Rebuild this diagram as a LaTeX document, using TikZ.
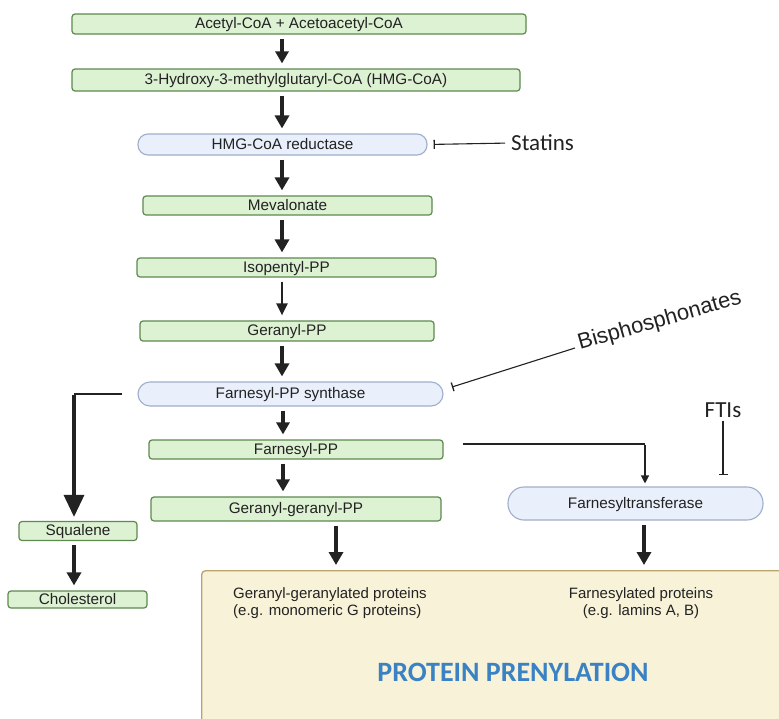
\documentclass[tikz,border=0pt]{standalone}
\usepackage{fontspec}
\setmainfont{Liberation Sans}
\newfontfamily\calfont{Carlito}
\usetikzlibrary{arrows.meta}
\definecolor{gfill}{HTML}{DDF1D3}
\definecolor{gdraw}{HTML}{5E8A50}
\definecolor{bfill}{HTML}{E9F0FB}
\definecolor{bdraw}{HTML}{9FAEC9}
\definecolor{yfill}{HTML}{F7F2D8}
\definecolor{ydraw}{HTML}{B9A46E}
\definecolor{ink}{HTML}{222222}
\definecolor{ptitle}{HTML}{3A82C4}
\tikzset{
  gbox/.style={draw=gdraw, fill=gfill, line width=1.2pt, rounded corners=3pt, inner sep=0pt, font=\fontsize{15.3}{17}\selectfont, text=ink, text height=11pt, text depth=1.6pt},
  pill/.style={draw=bdraw, fill=bfill, line width=1.1pt, rounded corners=10pt, inner sep=0pt, font=\fontsize{15.3}{17}\selectfont, text=ink, text height=11pt, text depth=1.6pt},
  arrthick/.style={draw=ink, line width=4.3pt, -{Triangle[length=13pt,width=14pt]}, shorten <=4pt, shorten >=5pt},
  arrmed/.style={draw=ink, line width=3.2pt, -{Triangle[length=12pt,width=13pt]}, shorten <=4pt, shorten >=5pt},
  arrthin/.style={draw=ink, line width=2.2pt, -{Triangle[length=12pt,width=11pt]}, shorten <=4pt, shorten >=5pt},
  arrfine/.style={draw=ink, line width=1.2pt, -{Triangle[length=8pt,width=8pt]}},
  inhib/.style={draw=ink, line width=1.1pt, -{Bar[width=9pt,line width=1.3pt]}},
  drug/.style={font=\calfont\fontsize{23}{25}\selectfont, text=ink, inner sep=0pt},
  plabel/.style={font=\fontsize{15}{17}\selectfont, text=ink, inner sep=0pt, align=left}
}
\begin{document}
\begin{tikzpicture}[x=1pt,y=-1pt]
\clip (0,0) rectangle (779,718);
\fill[white] (0,0) rectangle (779,718);

% big protein prenylation box
\node[draw=ydraw, fill=yfill, line width=1.3pt, rounded corners=4pt, minimum width=600pt, minimum height=170pt, anchor=north west, inner sep=0pt] (pbox) at (201,570) {};

\coordinate (col) at (282,0);

\node[gbox, minimum width=454pt, minimum height=20pt] (acetyl) at (299,24) {Acetyl-CoA + Acetoacetyl-CoA};
\node[gbox, minimum width=448pt, minimum height=22pt] (hmgcoa) at (296,80) {3-Hydroxy-3-methylglutaryl-CoA (HMG-CoA)};
\node[pill, minimum width=289pt, minimum height=21pt] (hmgr) at (282.5,144.5) {HMG-CoA reductase};
\node[gbox, minimum width=289pt, minimum height=19pt] (mev) at (287.5,205.5) {Mevalonate};
\node[gbox, minimum width=299pt, minimum height=19pt] (ipp) at (286.5,267.5) {Isopentyl-PP};
\node[gbox, minimum width=294pt, minimum height=20pt] (gpp) at (287,331) {Geranyl-PP};
\node[pill, rounded corners=12pt, minimum width=305pt, minimum height=24pt] (fpps) at (290.5,394) {Farnesyl-PP synthase};
\node[gbox, minimum width=294pt, minimum height=19pt] (fpp) at (296,449.5) {Farnesyl-PP};
\node[gbox, minimum width=290pt, minimum height=24pt] (ggpp) at (296,509) {Geranyl-geranyl-PP};
\node[gbox, minimum width=118pt, minimum height=19pt] (squal) at (78,531) {Squalene};
\node[gbox, minimum width=139pt, minimum height=17pt] (chol) at (77.5,599.5) {Cholesterol};
\node[pill, rounded corners=16pt, minimum width=255pt, minimum height=33pt] (ftase) at (635.5,503.5) {Farnesyltransferase};

% drugs
\node[drug, anchor=west] (statins) at (511,143) {Statins};
\node[drug] (ftis) at (723,410) {FTIs};
\node[font=\fontsize{22}{24}\selectfont, text=ink, inner sep=0pt, rotate=16, anchor=base west] (bisph) at (580,350) {Bisphosphonates};

% protein labels
\node[plabel, anchor=north west] (ggprot) at (233,587) {Geranyl-geranylated proteins\\(e.g. monomeric G proteins)};
\node[plabel, align=center, anchor=north] (fprot) at (641,587) {Farnesylated proteins\\(e.g. lamins A, B)};
\node[font=\calfont\bfseries\fontsize{28}{30}\selectfont, text=ptitle, inner sep=0pt] (title) at (513,672) {PROTEIN PRENYLATION};

% main arrows
\draw[arrmed] (acetyl.south -| col) -- (hmgcoa.north -| col);
\draw[arrthick] (hmgcoa.south -| col) -- (hmgr.north -| col);
\draw[arrthick] (hmgr.south -| col) -- (mev.north -| col);
\draw[arrthick] (mev.south -| col) -- (ipp.north -| col);
\draw[arrthin] (ipp.south -| col) -- (gpp.north -| col);
\draw[arrthick] (gpp.south -| col) -- (fpps.north -| col);
\coordinate (col2) at (283,0);
\draw[arrmed] (fpps.south -| col2) -- (fpp.north -| col2);
\draw[arrmed] (fpp.south -| col2) -- (ggpp.north -| col2);

% squalene branch
\coordinate (sqcorner) at (74,394);
\draw[ink, line width=1.8pt, shorten <=15pt] (fpps.west) -- (sqcorner);
\draw[draw=ink, line width=3.3pt, -{Triangle[length=22pt,width=20pt]}, shorten >=4pt] ([yshift=-0.9pt]sqcorner) -- (squal.north -| sqcorner);
\coordinate (sqcol) at (74,0);
\draw[arrthick] (squal.south -| sqcol) -- (chol.north -| sqcol);

% to prenylation box
\coordinate (ggcol) at (336,0);
\coordinate (ftcol) at (644,0);
\draw[arrthick] (ggpp.south -| ggcol) -- (pbox.north -| ggcol);
\draw[arrthick] (ftase.south -| ftcol) -- (pbox.north -| ftcol);

% farnesyl-PP to farnesyltransferase
\coordinate (ftcorner) at (645,444);
\draw[ink, line width=1.2pt, shorten <=19pt] (fpp.east |- ftcorner) -- (ftcorner);
\draw[arrfine, shorten >=3pt] ([yshift=-0.6pt]ftcorner) -- (ftase.north -| ftcorner);

% inhibitions
\draw[inhib, shorten <=6pt, shorten >=6pt] (statins.west) -- (hmgr.east);
\coordinate (bisend) at (452,387);
\draw[inhib] (575,348) -- (bisend);
\draw[inhib, shorten <=3pt, shorten >=11pt] (ftis.south) -- (ftis.south |- ftase.north);
\end{tikzpicture}
\end{document}
